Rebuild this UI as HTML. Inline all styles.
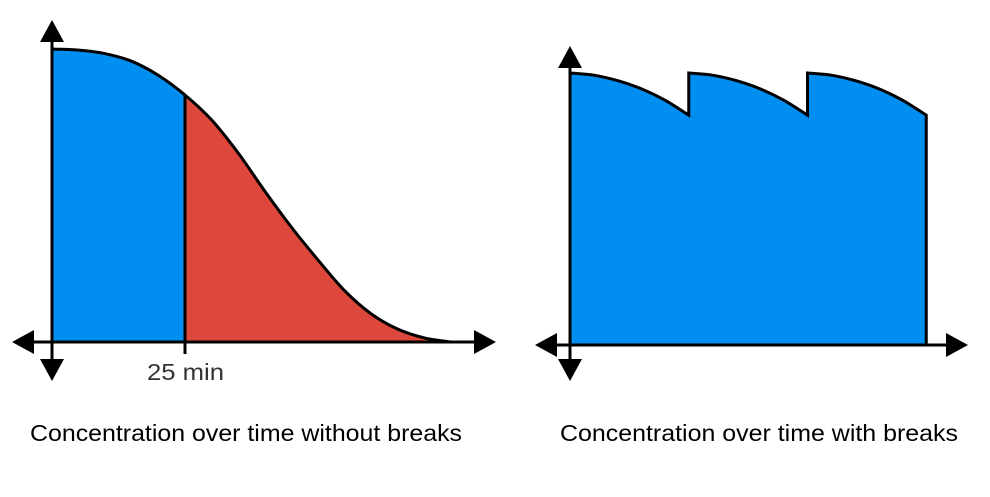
<!DOCTYPE html>
<html><head><meta charset="utf-8"><style>
html,body{margin:0;padding:0;background:#fff;}
svg{display:block;}
text{font-family:"Liberation Sans",sans-serif;}
</style></head><body>
<svg id="svg" width="990" height="497" viewBox="0 0 990 497">
<g id="left"></g>
<g id="right"></g>
<text x="30" y="441" font-size="23" textLength="432" lengthAdjust="spacingAndGlyphs" fill="#000">Concentration over time without breaks</text>
<text x="560" y="441" font-size="23" textLength="398" lengthAdjust="spacingAndGlyphs" fill="#000">Concentration over time with breaks</text>
</svg>
<script>
// Left chart data (minutes, concentration %)
const leftTimes = [0,5,10,15,20,25,30,35,40,45,50,55,60,65,70,75];
const leftConc = [100,99.6,98.4,95.8,91.0,84.3,75.8,64.5,51.5,39.2,28.0,17.5,9.6,4.4,1.4,0];
const breakTime = 25;
const breakLabel = "25 min";
// Right chart data: one work segment, repeated 3 times
const segTimes = [0,5,10,15,20,25];
const segConc = [100,99.2,97.2,94.2,90.0,84.5];
const segCount = 3;

const NS="http://www.w3.org/2000/svg";
function mk(tag,attrs,parent){const e=document.createElementNS(NS,tag);for(const k in attrs)e.setAttribute(k,attrs[k]);parent.appendChild(e);return e;}
function segs(pts){const out=[];for(let i=0;i<pts.length-1;i++){const p0=pts[i-1]||[2*pts[i][0]-pts[i+1][0],2*pts[i][1]-pts[i+1][1]],p1=pts[i],p2=pts[i+1],p3=pts[i+2]||[2*p2[0]-p1[0],2*p2[1]-p1[1]];
const c1x=p1[0]+(p2[0]-p0[0])/6,c1y=p1[1]+(p2[1]-p0[1])/6,c2x=p2[0]-(p3[0]-p1[0])/6,c2y=p2[1]-(p3[1]-p1[1])/6;
out.push(` C${c1x},${c1y} ${c2x},${c2y} ${p2[0]},${p2[1]}`);}return out;}
function axes(g,ox,oy,top,bottom,left,right){
  mk('line',{x1:ox,y1:top+18,x2:ox,y2:bottom-18,stroke:'#000','stroke-width':3},g);
  mk('line',{x1:left+18,y1:oy,x2:right-18,y2:oy,stroke:'#000','stroke-width':3},g);
  const a=[[`${ox},${top} ${ox-12},${top+22} ${ox+12},${top+22}`,'y-axis-arrow-up'],
  [`${ox},${bottom} ${ox-12},${bottom-22} ${ox+12},${bottom-22}`,'y-axis-arrow-down'],
  [`${left},${oy} ${left+22},${oy-12} ${left+22},${oy+12}`,'x-axis-arrow-left'],
  [`${right},${oy} ${right-22},${oy-12} ${right-22},${oy+12}`,'x-axis-arrow-right']];
  a.forEach(([p,n])=>{const e=mk('polygon',{points:p,fill:'#000'},g);});
}
// Left
(function(){
  const g=document.getElementById('left');
  const ox=52,oy=342,sx=5.32,sy=2.93;
  const X=t=>ox+t*sx,Y=c=>oy-c*sy;
  const pts=leftTimes.map((t,i)=>[X(t),Y(leftConc[i])]);
  const s=segs(pts);
  const bi=leftTimes.indexOf(breakTime);
  const blue=mk('path',{d:`M${ox},${oy} L${pts[0][0]},${pts[0][1]}`+s.slice(0,bi).join('')+` L${X(breakTime)},${oy} Z`,fill:'#008ef0'},g);
  
  const red=mk('path',{d:`M${pts[bi][0]},${oy} L${pts[bi][0]},${pts[bi][1]}`+s.slice(bi).join('')+` Z`,fill:'#de473c'},g);
  
  const line=mk('path',{d:`M${pts[0][0]},${pts[0][1]}`+s.join(''),fill:'none',stroke:'#000','stroke-width':3},g);
  
  const m=mk('line',{x1:X(breakTime),y1:Y(leftConc[bi]),x2:X(breakTime),y2:oy+12,stroke:'#000','stroke-width':3},g);
  
  axes(g,ox,oy,20,381,12,496);
  const t=mk('text',{x:147,y:380,'font-size':23,textLength:77,lengthAdjust:'spacingAndGlyphs',fill:'#333'},g);t.textContent=breakLabel;
  
})();
// Right
(function(){
  const g=document.getElementById('right');
  const ox=570,oy=345,sx=4.75,sy=2.72;
  const X=t=>ox+t*sx,Y=c=>oy-c*sy;
  const segLen=segTimes[segTimes.length-1];
  let d=`M${ox},${oy}`;
  for(let k=0;k<segCount;k++){
    const pts=segTimes.map((t,i)=>[X(k*segLen+t),Y(segConc[i])]);
    d+=` L${pts[0][0]},${pts[0][1]}`+segs(pts).join('');
  }
  d+=` L${X(segCount*segLen)},${oy} Z`;
  const a=mk('path',{d,fill:'#008ef0',stroke:'#000','stroke-width':3,'stroke-linejoin':'miter'},g);
  
  axes(g,ox,oy,46,381,535,968);
})();
</script>
</body></html>
